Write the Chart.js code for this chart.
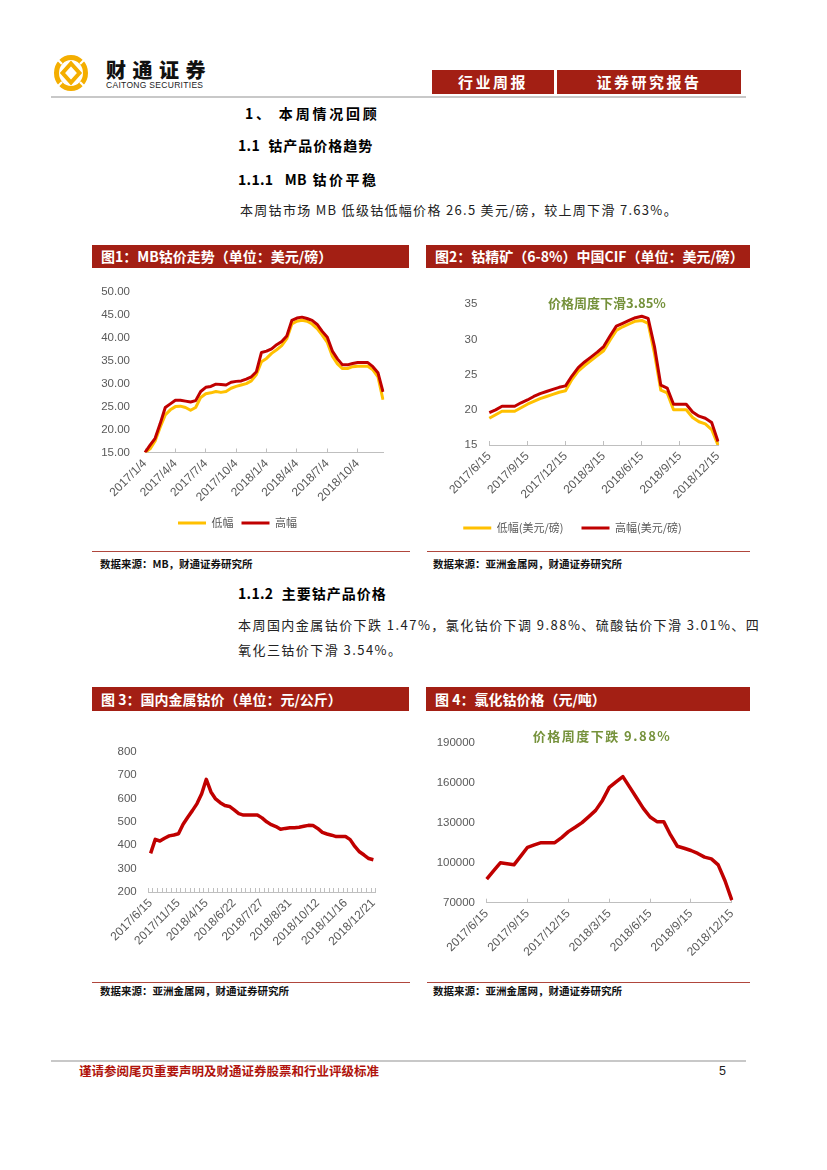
<!DOCTYPE html>
<html><head><meta charset="utf-8">
<script src="https://cdn.jsdelivr.net/npm/chart.js@4.4.0/dist/chart.umd.min.js"></script>
<style>
html,body{margin:0;padding:0;background:#fff;}
#page{position:relative;width:827px;height:1170px;overflow:hidden;font-family:"Noto Sans CJK SC",sans-serif;color:#111;}
.a{position:absolute;white-space:nowrap;line-height:1;}
.bar{position:absolute;background:#A31F14;color:#fff;font-weight:700;font-size:14px;line-height:23px;height:23px;box-sizing:border-box;padding-left:9px;white-space:nowrap;}
.rule{position:absolute;height:1px;background:#B0463C;}
.src{position:absolute;font-size:10.5px;font-weight:700;line-height:1;white-space:nowrap;color:#111;}
.h{position:absolute;font-weight:700;font-size:14px;line-height:1;white-space:nowrap;color:#000;}
.h .n{letter-spacing:0.3px;}
.p{position:absolute;font-size:13px;line-height:1;white-space:nowrap;color:#222;font-family:"Liberation Sans Narrow","Noto Sans CJK SC",sans-serif;letter-spacing:1.3px;}
.note{position:absolute;color:#76923C;font-weight:700;font-size:13px;line-height:1;white-space:nowrap;transform:translate(-50%,-50%);}
canvas{position:absolute;}
</style></head>
<body><div id="page">
<!-- header -->
<svg class="a" style="left:53px;top:54px" width="36" height="38" viewBox="0 0 36 38">
 <g fill="none" stroke="#F4AE00">
  <ellipse cx="18" cy="19" rx="14.5" ry="15.5" stroke-width="5"/>
  <path d="M18 9.5 L26.5 19 L18 28.5 L9.5 19 Z" stroke-width="4"/>
 </g>
 <g stroke="#fff" stroke-width="2.2">
  <line x1="3" y1="4" x2="9" y2="10"/><line x1="33" y1="4" x2="27" y2="10"/>
  <line x1="3" y1="34" x2="9" y2="28"/><line x1="33" y1="34" x2="27" y2="28"/>
 </g>
</svg>
<div class="a" style="left:106px;top:60px;font-size:20px;font-weight:900;letter-spacing:6.5px;color:#111">财通证券</div>
<div class="a" style="left:106px;top:81px;font-size:8.5px;letter-spacing:0.3px;font-family:'Liberation Sans',Arial,sans-serif;color:#222">CAITONG SECURITIES</div>
<div class="bar" style="left:432px;top:70px;width:122px;height:24px;line-height:24px;padding:0;text-align:center;font-size:15px;letter-spacing:2.5px">行业周报</div>
<div class="bar" style="left:557px;top:70px;width:184px;height:24px;line-height:24px;padding:0;text-align:center;font-size:15px;letter-spacing:2.5px">证券研究报告</div>
<div class="a" style="left:51px;top:96px;width:695px;height:2px;background:#c8c8c8"></div>

<div class="h" style="left:245px;top:106px;letter-spacing:2.8px">1、&nbsp;本周情况回顾</div>
<div class="h" style="left:238px;top:137.5px;letter-spacing:1px"><span class="n">1.1</span>&nbsp;&nbsp;钴产品价格趋势</div>
<div class="h" style="left:238px;top:172px;letter-spacing:2.5px"><span class="n">1.1.1</span>&nbsp;&nbsp;<span class="n">MB</span> 钴价平稳</div>
<div class="p" style="left:240px;top:203px">本周钴市场 MB 低级钴低幅价格 26.5 美元/磅，较上周下滑 7.63%。</div>

<!-- chart 1/2 frames -->
<div class="bar" style="left:92px;top:245px;width:317px">图1：MB钴价走势（单位：美元/磅）</div>
<div class="bar" style="left:426px;top:245px;width:324px">图2：钴精矿（6-8%）中国CIF（单位：美元/磅）</div>
<canvas id="c1" width="318" height="280" style="left:92px;top:270px;width:318px;height:280px"></canvas>
<canvas id="c2" width="323" height="280" style="left:427px;top:270px;width:323px;height:280px"></canvas>
<div class="note" style="left:607px;top:302px">价格周度下滑3.85%</div>
<div class="rule" style="left:92px;top:551px;width:318px"></div>
<div class="rule" style="left:427px;top:551px;width:323px"></div>
<div class="src" style="left:100px;top:559px">数据来源：MB，财通证券研究所</div>
<div class="src" style="left:433px;top:559px">数据来源：亚洲金属网，财通证券研究所</div>

<div class="h" style="left:238px;top:586px;letter-spacing:1px"><span class="n">1.1.2</span>&nbsp;&nbsp;主要钴产品价格</div>
<div class="p" style="left:238px;top:618px;letter-spacing:1.45px">本周国内金属钴价下跌 1.47%，氯化钴价下调 9.88%、硫酸钴价下滑 3.01%、四</div>
<div class="p" style="left:238px;top:643px;letter-spacing:1.45px">氧化三钴价下滑 3.54%。</div>

<!-- chart 3/4 frames -->
<div class="bar" style="left:92px;top:687px;width:317px;height:24px;line-height:24px">图 3：国内金属钴价（单位：元/公斤）</div>
<div class="bar" style="left:426px;top:687px;width:324px;height:24px;line-height:24px">图 4：氯化钴价格（元/吨）</div>
<canvas id="c3" width="318" height="268" style="left:92px;top:712px;width:318px;height:268px"></canvas>
<canvas id="c4" width="323" height="268" style="left:427px;top:712px;width:323px;height:268px"></canvas>
<div class="note" style="left:602px;top:735px;letter-spacing:1.5px">价格周度下跌 9.88%</div>
<div class="rule" style="left:92px;top:982px;width:318px"></div>
<div class="rule" style="left:427px;top:982px;width:323px"></div>
<div class="src" style="left:100px;top:986px">数据来源：亚洲金属网，财通证券研究所</div>
<div class="src" style="left:433px;top:986px">数据来源：亚洲金属网，财通证券研究所</div>

<!-- footer -->
<div class="a" style="left:51px;top:1060px;width:695px;height:2px;background:#c8c8c8"></div>
<div class="a" style="left:79px;top:1065px;font-size:12.5px;font-weight:700;color:#B0140C">谨请参阅尾页重要声明及财通证券股票和行业评级标准</div>
<div class="a" style="left:719px;top:1065px;font-size:12.5px;font-family:'Liberation Sans Narrow','Liberation Sans',sans-serif;color:#222">5</div>
</div>

<script>
// ---------- data ----------
const mbLabels = ['2017/1/4','2017/1/19','2017/2/4','2017/2/19','2017/3/4','2017/3/19','2017/4/4','2017/4/19','2017/5/4','2017/5/19','2017/6/4','2017/6/19',
 '2017/7/4','2017/7/19','2017/8/4','2017/8/19','2017/9/4','2017/9/19','2017/10/4','2017/10/19','2017/11/4','2017/11/19','2017/12/4','2017/12/19',
 '2018/1/4','2018/1/19','2018/2/4','2018/2/19','2018/3/4','2018/3/19','2018/4/4','2018/4/19','2018/5/4','2018/5/19','2018/6/4','2018/6/19',
 '2018/7/4','2018/7/19','2018/8/4','2018/8/19','2018/9/4','2018/9/19','2018/10/4','2018/10/19','2018/11/4','2018/11/19','2018/12/4','2018/12/19'];
const mbTickLabels = ['2017/1/4','2017/4/4','2017/7/4','2017/10/4','2018/1/4','2018/4/4','2018/7/4','2018/10/4'];
const mbLow  = [15.0,15.8,17.5,20.5,23.2,24.3,25.0,25.1,24.8,24.2,24.8,27.0,27.8,28.0,28.3,28.1,28.3,29.0,29.4,29.7,30.0,30.6,32.0,34.8,
 35.5,36.6,37.4,38.3,39.8,43.0,43.6,43.8,43.6,43.0,42.0,40.6,39.0,36.0,34.3,33.3,33.3,33.7,33.8,33.8,33.8,33.0,31.5,26.5];
const mbHigh = [15.0,16.6,18.1,21.3,24.8,25.6,26.4,26.4,26.2,26.0,26.3,28.3,29.2,29.4,29.9,29.8,29.7,30.3,30.5,30.6,31.0,31.5,32.6,36.8,
 37.1,37.6,38.5,39.2,40.4,43.8,44.3,44.5,44.2,43.8,42.9,41.4,40.1,37.1,35.4,34.1,34.1,34.4,34.6,34.6,34.6,33.7,32.4,28.2];

const semiLabels = ['2017/6/15','2017/7/1','2017/7/15','2017/8/1','2017/8/15','2017/9/1','2017/9/15','2017/10/1','2017/10/15','2017/11/1','2017/11/15','2017/12/1',
 '2017/12/15','2018/1/1','2018/1/15','2018/2/1','2018/2/15','2018/3/1','2018/3/15','2018/4/1','2018/4/15','2018/5/1','2018/5/15','2018/6/1',
 '2018/6/15','2018/7/1','2018/7/15','2018/8/1','2018/8/15','2018/9/1','2018/9/15','2018/10/1','2018/10/15','2018/11/1','2018/11/15','2018/12/1','2018/12/15'];
const semiTickLabels = ['2017/6/15','2017/9/15','2017/12/15','2018/3/15','2018/6/15','2018/9/15','2018/12/15'];
const cifLow  = [18.8,19.3,19.8,19.8,19.8,20.3,20.8,21.2,21.6,21.9,22.2,22.5,22.7,24.3,25.5,26.3,27.0,27.7,28.4,29.9,31.3,31.8,32.2,32.6,
 32.7,32.3,28.0,22.8,22.4,20.0,20.0,20.0,18.9,18.3,18.0,17.2,15.0];
const cifHigh = [19.6,20.0,20.5,20.5,20.5,21.0,21.4,21.9,22.3,22.6,22.9,23.2,23.4,24.8,26.0,26.8,27.5,28.2,29.0,30.5,31.9,32.3,32.7,33.1,
 33.3,33.0,29.0,23.5,23.1,20.8,20.8,20.8,19.7,19.1,18.8,18.2,15.5];

const metalLabels = ['2017/6/15','2017/7/10','2017/8/4','2017/8/29','2017/9/22','2017/10/20','2017/11/15','2017/12/10','2018/1/5','2018/1/31','2018/2/26','2018/3/22',
 '2018/4/15','2018/4/27','2018/5/11','2018/5/25','2018/6/8','2018/6/15','2018/6/22','2018/6/27','2018/7/4','2018/7/11','2018/7/18','2018/7/23',
 '2018/7/27','2018/8/1','2018/8/8','2018/8/15','2018/8/22','2018/8/27','2018/8/31','2018/9/7','2018/9/14','2018/9/21','2018/9/28','2018/10/8',
 '2018/10/12','2018/10/17','2018/10/24','2018/10/31','2018/11/7','2018/11/12','2018/11/16','2018/11/21','2018/11/28','2018/12/5','2018/12/12','2018/12/17','2018/12/21'];
const metalTickLabels = ['2017/6/15','2017/11/15','2018/4/15','2018/6/22','2018/7/27','2018/8/31','2018/10/12','2018/11/16','2018/12/21'];
const metalPrice = [365,425,418,430,440,444,449,490,520,548,578,620,682,628,598,582,570,566,551,535,529,529,529,529,517,
 500,488,480,468,472,475,475,477,481,485,484,472,455,448,443,437,437,437,424,395,372,358,343,338];

const chloridePrice = [87800,94000,100000,99300,98500,105000,111700,113500,115200,115200,115200,119000,123500,126800,130300,134800,139500,147000,156800,
 161000,164900,157000,149000,141000,134500,131000,131000,121000,112500,111000,109300,107100,104300,103000,98500,86500,72000];

// ---------- styles ----------
const FONT_NUM = "'Liberation Sans', Arial, sans-serif";
const FONT_CJK = "'Noto Sans CJK SC', sans-serif";
const GRAY = '#595959', AXIS = '#bfbfbf', RED = '#C00000', GOLD = '#FFC000';

function xScale(h, labels, shown, offset, allTicks) {
  const cfg = {
    type: 'category', offset: offset,
    grid: {display: true, drawOnChartArea: false, drawTicks: true, tickLength: -4, color: AXIS, lineWidth: 1, offset: offset},
    border: {display: true, color: AXIS, width: 1},
    ticks: {autoSkip: false, maxRotation: 45, minRotation: 45, padding: 8, color: GRAY,
      font: {family: FONT_NUM, size: 12},
      callback: function (v) { const l = labels[v]; return shown.includes(l) ? l : ''; }},
    afterFit: s => { s.height = h; }
  };
  if (!allTicks) cfg.afterBuildTicks = s => { s.ticks = s.ticks.filter(t => shown.includes(labels[t.value])); };
  return cfg;
}
function yScale(w, min, max, step, pad, fmt) {
  return {min: min, max: max, grid: {display: false, drawTicks: false}, border: {display: false},
    ticks: {stepSize: step, padding: pad, color: GRAY, font: {family: FONT_NUM, size: 11.5}, callback: fmt},
    afterFit: s => { s.width = w; }};
}
function line(label, data, color, width, order) {
  return {label: label, data: data, borderColor: color, backgroundColor: color, borderWidth: width,
    pointRadius: 0, pointHoverRadius: 0, tension: 0, borderJoinStyle: 'round', borderCapStyle: 'butt', order: order, fill: false};
}
function legendCfg(pad, show) {
  return {display: show, position: 'bottom',
    labels: {usePointStyle: true, pointStyle: 'line', pointStyleWidth: 28, color: GRAY, padding: pad,
      font: {family: FONT_CJK, size: 11}, sort: (a, b) => a.datasetIndex - b.datasetIndex}};
}
const base = {responsive: false, animation: false, events: []};

new Chart(document.getElementById('c1'), {
  type: 'line',
  data: {labels: mbLabels, datasets: [line('低幅', mbLow, GOLD, 3, 1), line('高幅', mbHigh, RED, 3, 0)]},
  options: Object.assign({}, base, {
    layout: {padding: {top: 20, right: 27, bottom: 11.5, left: 0}},
    scales: {x: xScale(57, mbLabels, mbTickLabels, false, false), y: yScale(53, 15, 50, 5, 15, v => v.toFixed(2))},
    plugins: {legend: legendCfg(8, true), tooltip: {enabled: false}}
  })
});

new Chart(document.getElementById('c2'), {
  type: 'line',
  data: {labels: semiLabels, datasets: [line('低幅(美元/磅)', cifLow, GOLD, 3, 1), line('高幅(美元/磅)', cifHigh, RED, 3, 0)]},
  options: Object.assign({}, base, {
    layout: {padding: {top: 34.3, right: 32, bottom: 6.5, left: 0}},
    scales: {x: xScale(59.5, semiLabels, semiTickLabels, false, false), y: yScale(62.3, 15, 35, 5, 12, v => String(v))},
    plugins: {legend: legendCfg(18, true), tooltip: {enabled: false}}
  })
});

new Chart(document.getElementById('c3'), {
  type: 'line',
  data: {labels: metalLabels, datasets: [line('国内金属钴价', metalPrice, RED, 3.5, 0)]},
  options: Object.assign({}, base, {
    layout: {padding: {top: 39.7, right: 34.3, bottom: 0, left: 0}},
    scales: {x: xScale(88, metalLabels, metalTickLabels, true, true), y: yScale(56.3, 200, 800, 100, 11.6, v => String(v))},
    plugins: {legend: {display: false}, tooltip: {enabled: false}}
  })
});

new Chart(document.getElementById('c4'), {
  type: 'line',
  data: {labels: semiLabels, datasets: [line('氯化钴价格', chloridePrice, RED, 3.5, 0)]},
  options: Object.assign({}, base, {
    layout: {padding: {top: 31.3, right: 12.7, bottom: 0, left: 0}},
    scales: {x: xScale(77.3, semiLabels, semiTickLabels, false, false), y: yScale(59.7, 70000, 190000, 30000, 11.7, v => String(v))},
    plugins: {legend: {display: false}, tooltip: {enabled: false}}
  })
});
</script>
</body></html>
